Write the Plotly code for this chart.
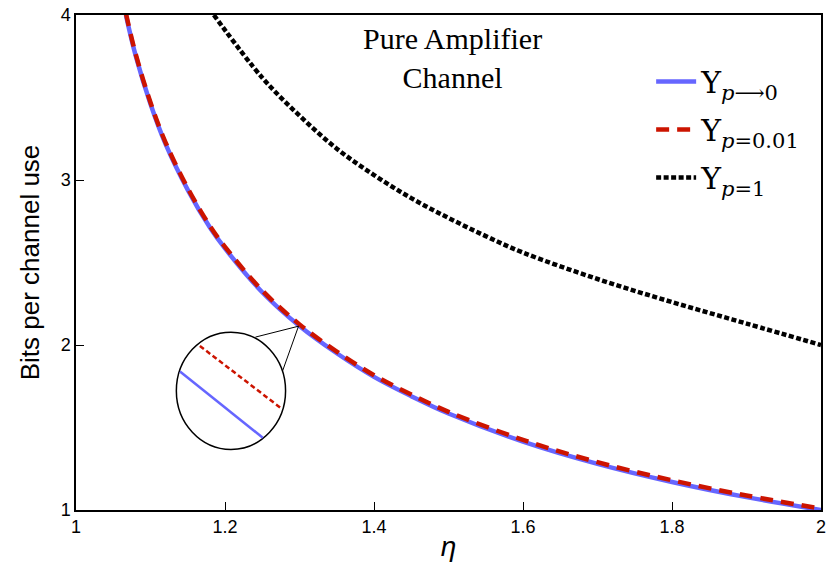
import plotly.graph_objects as go

# Data
eta_p0 = [1.067, 1.08, 1.10, 1.12, 1.15, 1.18, 1.20, 1.25, 1.30, 1.35, 1.40, 1.45, 1.50, 1.60, 1.70, 1.80, 1.90, 2.00]
ups_p0 = [4.00, 3.755, 3.46, 3.22, 2.94, 2.71, 2.585, 2.32, 2.115, 1.95, 1.807, 1.69, 1.585, 1.415, 1.28, 1.17, 1.078, 1.00]

eta_p001 = [1.067, 1.08, 1.10, 1.12, 1.15, 1.18, 1.20, 1.25, 1.30, 1.35, 1.40, 1.45, 1.50, 1.60, 1.70, 1.80, 1.90, 2.00]
ups_p001 = [4.01, 3.765, 3.47, 3.23, 2.95, 2.72, 2.595, 2.33, 2.125, 1.96, 1.817, 1.70, 1.595, 1.425, 1.29, 1.18, 1.088, 1.008]

eta_p1 = [1.185, 1.25, 1.30, 1.35, 1.40, 1.45, 1.50, 1.55, 1.60, 1.70, 1.80, 1.90, 2.00]
ups_p1 = [4.00, 3.62, 3.39, 3.19, 3.03, 2.89, 2.77, 2.66, 2.56, 2.40, 2.26, 2.13, 2.00]

x_ticks = [1, 1.2, 1.4, 1.6, 1.8, 2]
y_ticks = [1, 2, 3, 4]

# inset (magnifier) geometry in data units
circ = dict(x0=1.1347, x1=1.2813, y0=1.367, y1=2.078)
focus = (1.2987, 2.114)
tangent_a = (1.2409, 2.048)
tangent_b = (1.2773, 1.843)
inset_blue = ((1.1396, 1.839), (1.2507, 1.438))
inset_red = ((1.1663, 1.994), (1.2764, 1.613))

BLUE = "rgb(102,102,255)"
RED = "rgb(204,20,0)"

fig = go.Figure()
fig.add_trace(go.Scatter(x=eta_p0, y=ups_p0, mode="lines", line=dict(color=BLUE, width=4.5, shape="spline"),
                         name="Υ<sub><i>p</i>⟶0</sub>", legendgroup="a"))
fig.add_trace(go.Scatter(x=eta_p001, y=ups_p001, mode="lines",
                         line=dict(color=RED, width=4.5, dash="13px,8px", shape="spline"),
                         name="Υ<sub><i>p</i>=0.01</sub>", legendgroup="b"))
fig.add_trace(go.Scatter(x=eta_p1, y=ups_p1, mode="lines",
                         line=dict(color="black", width=4.5, dash="5px,2.5px", shape="spline"),
                         name="Υ<sub><i>p</i>=1</sub>", legendgroup="c"))

shapes = [
    dict(type="circle", xref="x", yref="y", **circ, line=dict(color="black", width=1.5), fillcolor="white", layer="above"),
    dict(type="line", xref="x", yref="y", x0=tangent_a[0], y0=tangent_a[1], x1=focus[0], y1=focus[1],
         line=dict(color="black", width=1)),
    dict(type="line", xref="x", yref="y", x0=tangent_b[0], y0=tangent_b[1], x1=focus[0], y1=focus[1],
         line=dict(color="black", width=1)),
    dict(type="line", xref="x", yref="y", x0=inset_blue[0][0], y0=inset_blue[0][1], x1=inset_blue[1][0], y1=inset_blue[1][1],
         line=dict(color=BLUE, width=2.5), layer="above"),
    dict(type="line", xref="x", yref="y", x0=inset_red[0][0], y0=inset_red[0][1], x1=inset_red[1][0], y1=inset_red[1][1],
         line=dict(color=RED, width=2.5, dash="5px,3px"), layer="above"),
]

fig.update_layout(
    width=831, height=570,
    margin=dict(l=76, r=5, t=12, b=60),
    paper_bgcolor="white", plot_bgcolor="white",
    shapes=shapes,
    showlegend=True,
    legend=dict(x=0.772, y=0.918, xanchor="left", yanchor="top",
                font=dict(family="DejaVu Serif", size=30, color="black"),
                bgcolor="rgba(0,0,0,0)", itemwidth=40, tracegroupgap=6),
    annotations=[
        dict(text="Pure Amplifier<br>Channel", x=0.505, y=0.99, xref="paper", yref="paper",
             xanchor="center", yanchor="top", showarrow=False, align="center",
             font=dict(family="Liberation Serif", size=30, color="black")),
    ],
)

fig.update_xaxes(range=[1, 2], tickvals=x_ticks, ticktext=[str(v) for v in x_ticks],
                 showgrid=False, zeroline=False, showline=True, linecolor="black", linewidth=1.5,
                 mirror=True, ticks="inside", ticklen=8, tickcolor="black", tickwidth=1.2,
                 tickfont=dict(family="Liberation Sans", size=18, color="black"),
                 title=dict(text="<i>η</i>", font=dict(family="Liberation Sans", size=28, color="black"), standoff=0))
fig.update_yaxes(range=[1, 4], tickvals=y_ticks,
                 showgrid=False, zeroline=False, showline=True, linecolor="black", linewidth=1.5,
                 mirror=True, ticks="inside", ticklen=8, tickcolor="black", tickwidth=1.2,
                 tickfont=dict(family="Liberation Sans", size=18, color="black"),
                 title=dict(text="Bits per channel use", font=dict(family="Liberation Sans", size=26, color="black"), standoff=14))

fig.write_html("out.html")
